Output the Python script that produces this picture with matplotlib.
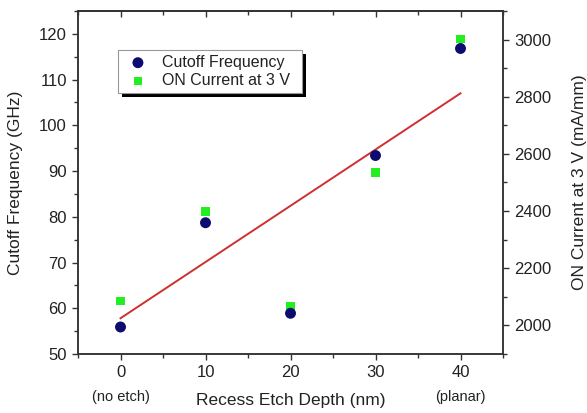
import matplotlib
matplotlib.use('Agg')
import matplotlib.pyplot as plt
from matplotlib.patches import Rectangle
from matplotlib.ticker import MultipleLocator
from matplotlib.transforms import blended_transform_factory, IdentityTransform

# ---[DATA]---
depth = [0, 10, 20, 30, 40]
cutoff_freq = [55.9, 78.7, 58.9, 93.4, 116.8]       # GHz, left axis
on_current = [2085, 2398, 2068, 2534, 3002]         # mA/mm, right axis
fit_x = [0, 40]
fit_y = [2025, 2812]                                # red line
xtick_vals = [0, 10, 20, 30, 40]
notes = {0: '(no etch)', 40: '(planar)'}
# ------------

plt.rcParams['font.family'] = ['Liberation Sans', 'DejaVu Sans']
txt_col = '#222222'
spine_col = '#333333'

fig = plt.figure(figsize=(5.87, 4.13), dpi=100)
ax = fig.add_axes([0.1329, 0.1429, 0.7240, 0.8305])
ax2 = ax.twinx()

ax.set_xlim(-5, 45)
ax.set_ylim(50, 125)
ax2.set_ylim(1900, 3100)

# ON current (squares) sits under the circles, so ax2 goes behind ax
ax.set_zorder(ax2.get_zorder() + 1)
ax.patch.set_visible(False)

ax2.plot(fit_x, fit_y, color='#cf2f2f', lw=1.4, zorder=1)
sq = ax2.scatter(depth, on_current, marker='s', s=38, color='#22ee22',
                 edgecolors='none', zorder=2, label='ON Current at 3 V')
ci = ax.scatter(depth, cutoff_freq, marker='o', s=62, color='#0c0c70',
                edgecolors='none', zorder=3, label='Cutoff Frequency')

ax.set_xticks(xtick_vals)
ax.xaxis.set_minor_locator(MultipleLocator(5))
ax.yaxis.set_major_locator(MultipleLocator(10))
ax.yaxis.set_minor_locator(MultipleLocator(5))
ax2.yaxis.set_major_locator(MultipleLocator(200))
ax2.yaxis.set_minor_locator(MultipleLocator(100))

# top ticks point inward, bottom ones outward
top = ax.secondary_xaxis('top')
top.set_xticks(xtick_vals)
top.xaxis.set_minor_locator(MultipleLocator(5))
top.tick_params(axis='x', which='both', direction='in', labeltop=False,
                colors=spine_col, width=1.0)
top.tick_params(axis='x', which='major', length=4)
top.tick_params(axis='x', which='minor', length=3)

for a in (ax, ax2, top):
    for s in a.spines.values():
        s.set_color(spine_col)
        s.set_linewidth(1.1)

ax.tick_params(axis='both', which='both', colors=spine_col, labelcolor=txt_col,
               labelsize=12, width=1.0)
ax.tick_params(axis='both', which='major', length=4, pad=4)
ax.tick_params(axis='both', which='minor', length=3)
ax2.tick_params(axis='y', which='both', colors=spine_col, labelcolor=txt_col,
                labelsize=12, width=1.0, pad=4)
ax2.tick_params(axis='y', which='major', length=4)
ax2.tick_params(axis='y', which='minor', length=3)

ax.set_xlabel('Recess Etch Depth (nm)', fontsize=12.5, color=txt_col)
ax.set_ylabel('Cutoff Frequency (GHz)', fontsize=12.5, color=txt_col)
ax2.set_ylabel('ON Current at 3 V (mA/mm)', fontsize=12.5, color=txt_col)
ax.xaxis.set_label_coords(0.5, -0.115)
ax.yaxis.set_label_coords(-0.148, 0.5)
ax2.yaxis.set_label_coords(1.18, 0.5)
ax.yaxis.label.set_va('center')
ax2.yaxis.label.set_va('center')

trans = blended_transform_factory(ax.transData, ax.transAxes)
for xv, note in notes.items():
    ax.text(xv, -0.125, note, transform=trans, ha='center', va='center',
            fontsize=10.5, color=txt_col)

leg = ax.legend(handles=[ci, sq], loc='upper left', bbox_to_anchor=(0.094, 0.886),
                borderaxespad=0, frameon=False, fontsize=11.5, handletextpad=0.55,
                borderpad=0.3, labelspacing=0.2, handlelength=1.9)
leg.set_zorder(6)
for t in leg.get_texts():
    t.set_color(txt_col)

# legend box drawn by hand: wider than its text, with a hard black drop shadow
fig.canvas.draw()
bb = leg.get_window_extent()
box_w = 0.433 * ax.get_window_extent().width
ax.add_patch(Rectangle((bb.x0 + 4, bb.y0 - 4), box_w, bb.height,
                       transform=IdentityTransform(), facecolor='black',
                       edgecolor='none', zorder=5.5))
ax.add_patch(Rectangle((bb.x0, bb.y0), box_w, bb.height,
                       transform=IdentityTransform(), facecolor='white',
                       edgecolor='#999999', linewidth=0.8, zorder=5.7))

fig.savefig('out.png', dpi=100)
